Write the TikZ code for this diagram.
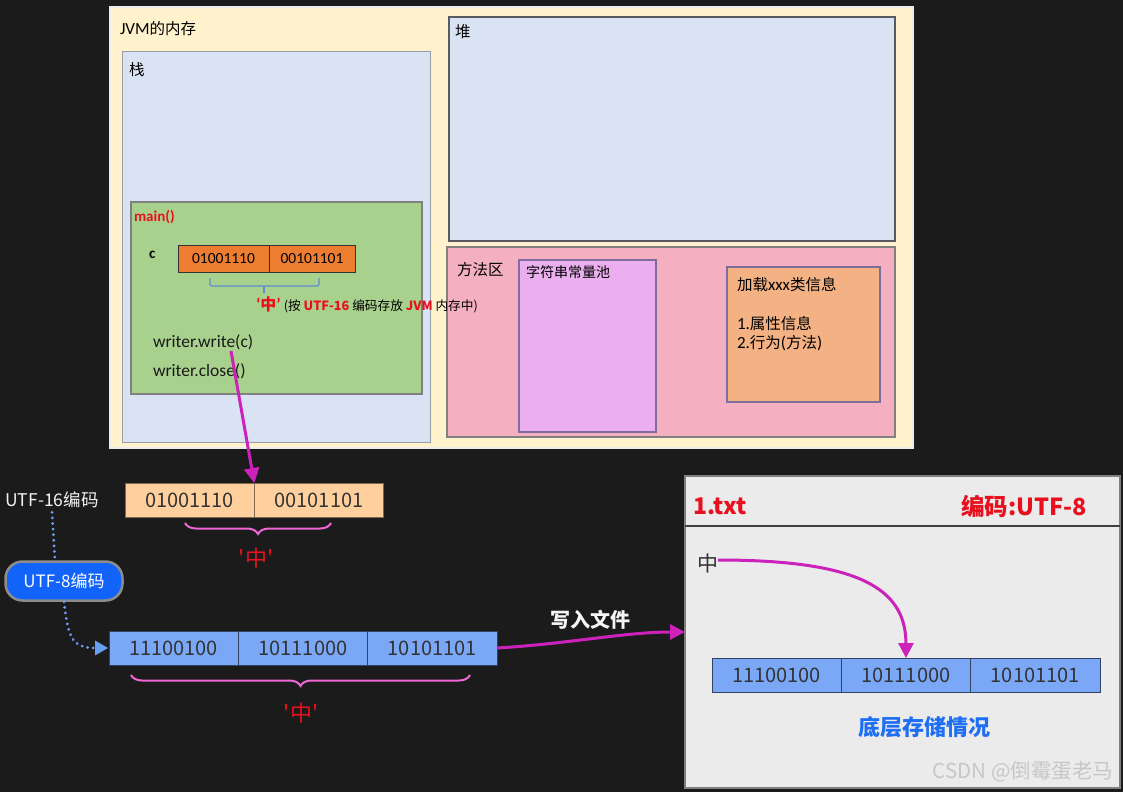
\documentclass[tikz,border=0pt]{standalone}
\usepackage{fontspec}
\setmainfont{Noto Sans CJK SC}
\newfontfamily\lat{Carlito}
\usetikzlibrary{arrows.meta,decorations.pathreplacing}
\definecolor{bg}{HTML}{1B1B1B}
\definecolor{jvmfill}{HTML}{FFF2CC}
\definecolor{bluebox}{HTML}{DAE3F3}
\definecolor{greenbox}{HTML}{A9D18E}
\definecolor{orangecell}{HTML}{ED7D31}
\definecolor{pinkbox}{HTML}{F4B0C0}
\definecolor{poolbox}{HTML}{EBAFF0}
\definecolor{classbox}{HTML}{F4B183}
\definecolor{peach}{HTML}{FFD09E}
\definecolor{cellblue}{HTML}{7BA7F7}
\definecolor{magenta}{HTML}{CC22BB}
\definecolor{bracepink}{HTML}{F066D6}
\definecolor{txtred}{HTML}{E8101E}
\definecolor{pillblue}{HTML}{1263FA}
\definecolor{dotblue}{HTML}{6A9EF0}
\definecolor{darktxt}{HTML}{333333}
\definecolor{titleblue}{HTML}{1E6FF5}
\definecolor{purpleline}{HTML}{7E6E9E}
\definecolor{bracketblue}{HTML}{5B8FCF}
\begin{document}
\begin{tikzpicture}[x=1pt,y=-1pt,
  box/.style={draw, anchor=north west, inner sep=0pt, outer sep=0pt},
  txt/.style={inner sep=0pt, outer sep=0pt, anchor=west, text=black},
  cjkfont/.style={font=\fontsize{15.5}{18}\selectfont},
  ocell/.style={draw=black!80, fill=orangecell, minimum height=27, inner sep=0pt, outer sep=0pt, anchor=west, font=\lat\fontsize{15.5}{18}\selectfont},
  bigcell/.style={draw=#1, minimum width=129.3, minimum height=34, inner sep=0pt, outer sep=0pt, anchor=west, text=darktxt, font=\fontsize{20}{23}\selectfont},
  magarrow/.style={draw=magenta, line width=3, -{Triangle[length=15pt,width=15pt]}},
  pbrace/.style={draw=bracepink, line width=2, decorate, decoration={brace, mirror, amplitude=11pt}},
  dots/.style={draw=dotblue, line width=3, dash pattern=on 0.1pt off 5.5pt, line cap=round}
]
\fill[bg] (0,0) rectangle (1123,792);
\useasboundingbox (0,0) rectangle (1123,792);

% ---------------- JVM memory ----------------
\node[box, fill=jvmfill, draw=white!85!gray, line width=1.5, minimum width=803, minimum height=441] (jvm) at (110,7) {};
\node[txt, cjkfont] (jvmlabel) at (120,29) {{\lat\fontsize{17}{19}\selectfont JVM}的内存};

\node[box, fill=bluebox, draw=black!25!bluebox!70!gray, minimum width=308, minimum height=391] (stack) at (122,51) {};
\node[txt, cjkfont] (stacklabel) at (129,70) {栈};

\node[box, fill=bluebox, draw=black!60!bluebox, line width=1.1, minimum width=446, minimum height=224] (heap) at (449,17) {};
\node[txt, cjkfont] (heaplabel) at (455,32) {堆};

\node[box, fill=pinkbox, draw=gray, line width=1.1, minimum width=448, minimum height=190] (method) at (447,247) {};
\node[txt, cjkfont] (methodlabel) at (457,270) {方法区};

\node[box, fill=poolbox, draw=purpleline, line width=1.1, minimum width=137, minimum height=172] (pool) at (519,260) {};
\node[txt, font=\fontsize{14}{16}\selectfont] (poollabel) at (526,272) {字符串常量池};

\node[box, fill=classbox, draw=purpleline, line width=1.1, minimum width=153, minimum height=135] (classinfo) at (727,267) {};
\node[txt, cjkfont] (classlabel) at (737,285) {加载{\lat\fontsize{17}{19}\selectfont xxx}类信息};
\node[txt, cjkfont] (attrlabel) at (737,324) {{\lat\fontsize{17}{19}\selectfont 1.}属性信息};
\node[txt, cjkfont] (behlabel) at (737,343) {{\lat\fontsize{17}{19}\selectfont 2.}行为{\lat\fontsize{17}{19}\selectfont (}方法{\lat\fontsize{17}{19}\selectfont )}};

% main frame
\node[box, fill=greenbox, draw=gray, line width=1.1, minimum width=291, minimum height=192] (mainframe) at (131,202) {};
\node[txt, text=txtred, font=\lat\bfseries\fontsize{15}{17}\selectfont] (mainlabel) at (134,217) {main()};
\node[txt, font=\lat\bfseries\fontsize{15}{17}\selectfont] (clabel) at (149,255) {c};
\node[ocell, minimum width=91] (o1) at (178,258.5) {01001110};
\node[ocell, minimum width=86] (o2) at (o1.east) {00101101};
\draw[draw=bracketblue, line width=1.2, rounded corners=1.5]
  (210,278) -- (210,286) -- (319,286) -- (319,278);
\draw[draw=bracketblue, line width=1.2] (264,286) -- (264,293);
\node[txt, font=\fontsize{12.7}{15}\selectfont] (note) at (256,305)
  {\textcolor{txtred}{\bfseries{\lat\fontsize{17}{19}\selectfont ‘}\fontsize{16}{18}\selectfont 中{\lat\fontsize{17}{19}\selectfont ’}}\hspace{3pt}({}按 \textcolor{txtred}{\bfseries UTF-16} 编码存放 \textcolor{txtred}{\bfseries JVM} 内存中)};
\node[txt, text=black!90, font=\lat\fontsize{17.5}{20}\selectfont] (write) at (153,342) {writer.write(c)};
\node[txt, text=black!90, font=\lat\fontsize{17.5}{20}\selectfont] (close) at (153,371) {writer.close()};
\coordinate (writestart) at (231,351);

% ---------------- UTF-16 bytes ----------------
\node[bigcell=black!50!peach, fill=peach] (h1) at (125,500) {01001110};
\node[bigcell=black!50!peach, fill=peach] (h2) at (h1.east) {00101101};
\draw[magarrow] (writestart) -- (h1.north east);
\draw[pbrace] (185,523) -- (331,523);
\node[text=txtred, inner sep=0pt, font=\fontsize{22}{25}\selectfont] (zh16) at (256,558) {\textquotesingle 中\textquotesingle};

\node[text=white!90!gray, inner sep=0pt, font=\fontsize{17.5}{20}\selectfont] (l16) at (52,500) {UTF-16编码};
\node[draw=gray!90, line width=2.5, fill=pillblue, rounded corners=17, minimum width=117, minimum height=39, inner sep=0pt, text=white, font=\fontsize{17}{20}\selectfont] (pill) at (64,581) {UTF-8编码};
\draw[dots] ([yshift=-4]l16.south) -- ([xshift=-9]pill.north);

% ---------------- UTF-8 bytes ----------------
\node[bigcell=black!60!cellblue, fill=cellblue] (u1) at (109,648) {11100100};
\node[bigcell=black!60!cellblue, fill=cellblue] (u2) at (u1.east) {10111000};
\node[bigcell=black!60!cellblue, fill=cellblue] (u3) at (u2.east) {10101101};
\draw[dots] ([xshift=0]pill.south) .. controls +(4,32) and +(-25,0) .. ([xshift=-14]u1.west);
\fill[dotblue] ([xshift=-1]u1.west) -- ([xshift=-14,yshift=-7.5]u1.west) -- ([xshift=-14,yshift=7.5]u1.west) -- cycle;
\draw[pbrace] (131,675) -- (470,675);
\node[text=txtred, inner sep=0pt, font=\fontsize{22}{25}\selectfont] (zh8) at (301,713) {\textquotesingle 中\textquotesingle};

% ---------------- file ----------------
\node[box, fill=black!8, draw=gray, line width=1.2, minimum width=435, minimum height=312] (panel) at (685,476) {};
\draw[draw=black!75, line width=2] (panel.west |- 0,526) -- (panel.east |- 0,526);
\node[txt, text=txtred, font=\bfseries\fontsize{23}{26}\selectfont] (fname) at (693,506) {1.txt};
\node[txt, anchor=east, text=txtred, font=\bfseries\fontsize{23.5}{26}\selectfont] (enc) at (1087,506) {编码:UTF-8};
\node[txt, text=darktxt, font=\fontsize{21}{24}\selectfont] (zhfile) at (697,564) {中};

\node[bigcell=black!60!cellblue, fill=cellblue] (f1) at (712,675) {11100100};
\node[bigcell=black!60!cellblue, fill=cellblue] (f2) at (f1.east) {10111000};
\node[bigcell=black!60!cellblue, fill=cellblue] (f3) at (f2.east) {10101101};
\draw[magarrow] ([yshift=4]zhfile.east) .. controls +(140,0) and +(0,-70) .. (f2.north);
\node[text=titleblue, inner sep=0pt, font=\bfseries\fontsize{22}{25}\selectfont] (storage) at (924,727) {底层存储情况};
\node[text=black!22, inner sep=0pt, font=\fontsize{20.5}{23}\selectfont] (wm) at (1023,772) {CSDN @倒霉蛋老马};

% write to file
\draw[magarrow] (u3.east) .. controls +(70,-4) and +(-60,0) .. (panel.west);
\node[text=white!92!gray, inner sep=0pt, font=\bfseries\fontsize{20}{23}\selectfont] (writelabel) at (590,620) {写入文件};
\end{tikzpicture}
\end{document}
